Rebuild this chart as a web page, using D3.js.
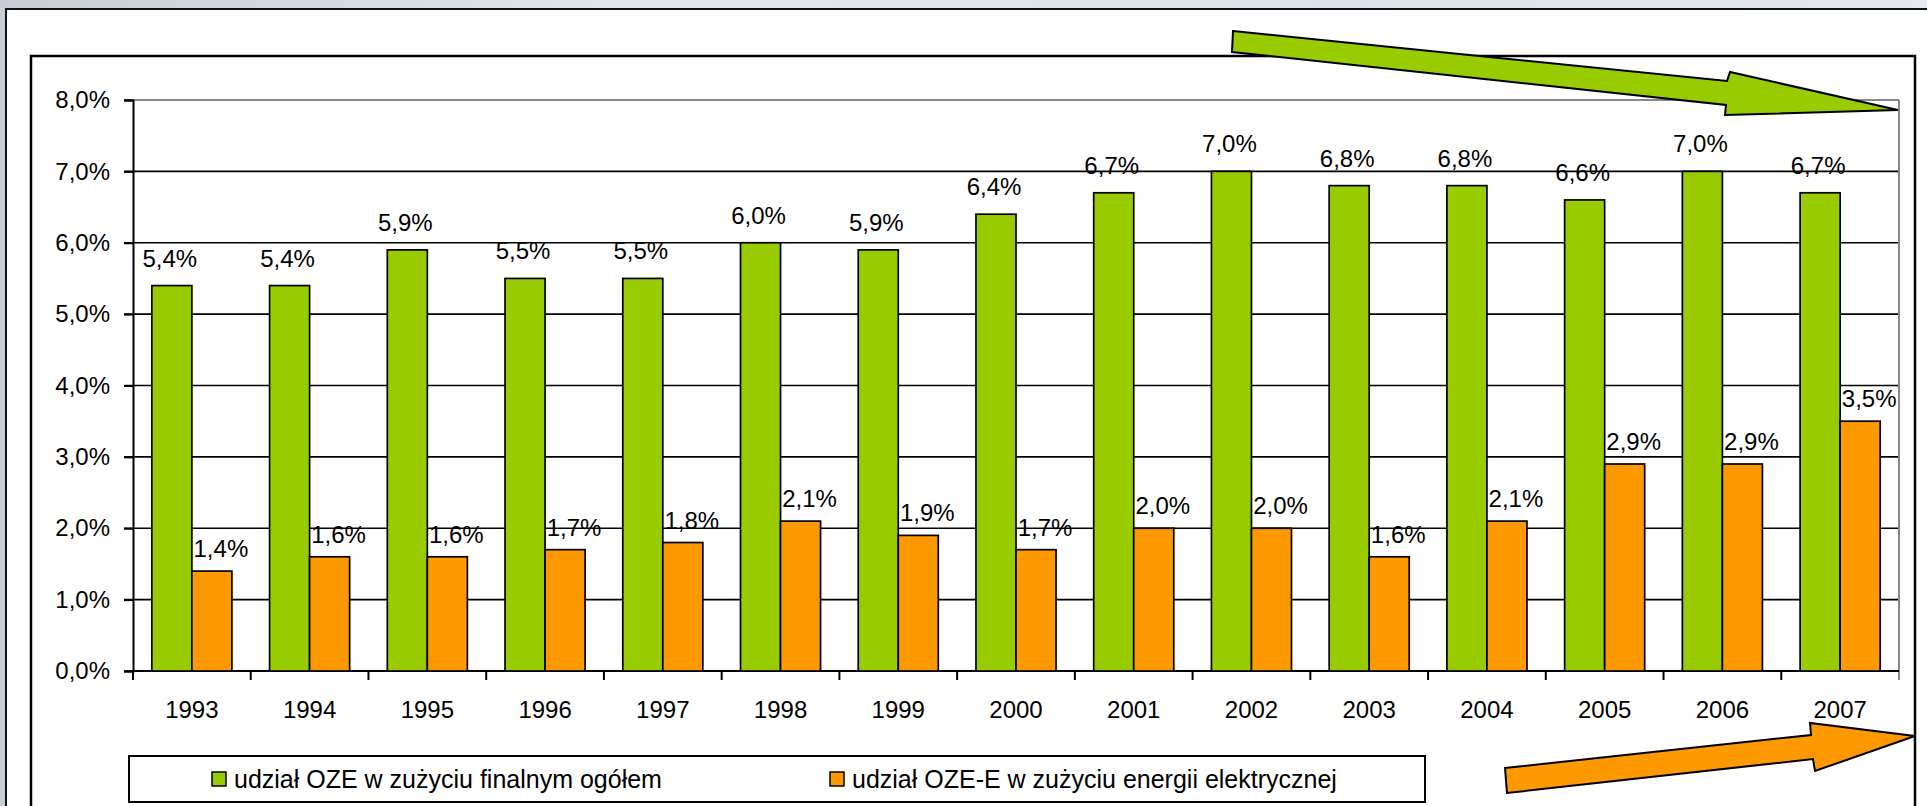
<!DOCTYPE html>
<html>
<head>
<meta charset="utf-8">
<script src="https://cdn.jsdelivr.net/npm/d3@7"></script>
<style>
    html, body { margin: 0; padding: 0; background: #dfe3e9; }
    svg { display: block; }
    text { font-family: "Liberation Sans", Arial, sans-serif; fill: #000; }
</style>
</head>
<body>
<svg id="chart" width="1927" height="806"></svg>
<script>
// --- data ---
const years = ["1993", "1994", "1995", "1996", "1997", "1998", "1999", "2000",
    "2001", "2002", "2003", "2004", "2005", "2006", "2007"];
const ozeTotal = [5.4, 5.4, 5.9, 5.5, 5.5, 6.0, 5.9, 6.4, 6.7, 7.0, 6.8, 6.8, 6.6, 7.0, 6.7];
const ozeElectric = [1.4, 1.6, 1.6, 1.7, 1.8, 2.1, 1.9, 1.7, 2.0, 2.0, 1.6, 2.1, 2.9, 2.9, 3.5];
const yTicks = [0, 1, 2, 3, 4, 5, 6, 7, 8];
const seriesNames = [
    "udział OZE w zużyciu finalnym ogółem",
    "udział OZE-E w zużyciu energii elektrycznej"
];
const seriesColors = ["#99cc00", "#ff9900"];

const svg = d3.select("#chart");
const W = 1927, H = 806;

// background + frames
const defs = svg.append("defs");
const grad = defs.append("linearGradient").attr("id", "bg").attr("x1", 0).attr("y1", 0).attr("x2", 1).attr("y2", 0);
grad.append("stop").attr("offset", "0%").attr("stop-color", "#c9ced4");
grad.append("stop").attr("offset", "35%").attr("stop-color", "#e3e7ee");
grad.append("stop").attr("offset", "70%").attr("stop-color", "#dde3ec");
grad.append("stop").attr("offset", "100%").attr("stop-color", "#e6e9ee");
svg.append("rect").attr("width", W).attr("height", H).attr("fill", "url(#bg)");

svg.append("rect").attr("x", 6).attr("y", 9).attr("width", W).attr("height", H)
    .attr("fill", "#fff").attr("stroke", "#111").attr("stroke-width", 2);
svg.append("rect").attr("x", 31).attr("y", 56).attr("width", 1915 - 31).attr("height", H)
    .attr("fill", "#fff").attr("stroke", "#000").attr("stroke-width", 2.5);

// plot area
const plot = { left: 133, right: 1899, top: 100, bottom: 671 };

const x = d3.scaleBand().domain(years).range([plot.left, plot.right]).padding(0);
const x1 = d3.scaleBand().domain([0, 1])
    .range([x.bandwidth() * 0.16, x.bandwidth() * 0.84]).padding(0);
const y = d3.scaleLinear().domain([0, 8]).range([plot.bottom, plot.top]);

const pct = (v) => d3.format(".1f")(v).replace(".", ",") + "%";

// gridlines (top one gray as plot border)
svg.append("g")
    .selectAll("line")
    .data(yTicks)
    .join("line")
    .attr("x1", plot.left - 9)
    .attr("x2", plot.right)
    .attr("y1", (d) => y(d))
    .attr("y2", (d) => y(d))
    .attr("stroke", (d) => (d === 8 ? "#888" : "#000"))
    .attr("stroke-width", (d) => (d === 8 ? 2 : 1.7));

// right plot border
svg.append("line")
    .attr("x1", plot.right).attr("x2", plot.right)
    .attr("y1", plot.top).attr("y2", plot.bottom + 9)
    .attr("stroke", "#888").attr("stroke-width", 2);

// y axis
const yAxis = svg.append("g")
    .attr("transform", `translate(${plot.left},0)`)
    .call(d3.axisLeft(y).tickValues(yTicks).tickSize(9).tickPadding(14).tickFormat(pct));
yAxis.select(".domain").attr("stroke", "#000").attr("stroke-width", 2);
yAxis.selectAll(".tick line").attr("stroke", "#000").attr("stroke-width", 2);
yAxis.selectAll("text").attr("font-size", 24).attr("font-family", "Liberation Sans, Arial, sans-serif");

// x axis
const xAxis = svg.append("g")
    .attr("transform", `translate(0,${plot.bottom})`)
    .call(d3.axisBottom(x).tickSize(0).tickPadding(30));
xAxis.select(".domain").remove();
xAxis.selectAll("text").attr("font-size", 24).attr("font-family", "Liberation Sans, Arial, sans-serif");

const boundaries = years.map((d) => x(d)).concat([plot.right]);
svg.append("g")
    .selectAll("line")
    .data(boundaries)
    .join("line")
    .attr("x1", (d) => d).attr("x2", (d) => d)
    .attr("y1", plot.bottom).attr("y2", plot.bottom + 9)
    .attr("stroke", (d, i) => (i === boundaries.length - 1 ? "#888" : "#000"))
    .attr("stroke-width", 2);

svg.append("line")
    .attr("x1", plot.left).attr("x2", plot.right)
    .attr("y1", plot.bottom).attr("y2", plot.bottom)
    .attr("stroke", "#000").attr("stroke-width", 2);

// bars
const series = [ozeTotal, ozeElectric];
series.forEach((vals, s) => {
    svg.append("g")
        .selectAll("rect")
        .data(vals)
        .join("rect")
        .attr("x", (d, i) => x(years[i]) + x1(s))
        .attr("y", (d) => y(d))
        .attr("width", x1.bandwidth())
        .attr("height", (d) => plot.bottom - y(d))
        .attr("fill", seriesColors[s])
        .attr("stroke", "#000")
        .attr("stroke-width", 1.7);
});

// value labels
const labelOffset = [{ dx: -2, dy: -19 }, { dx: 9, dy: -14 }];
series.forEach((vals, s) => {
    svg.append("g")
        .selectAll("text")
        .data(vals)
        .join("text")
        .attr("x", (d, i) => x(years[i]) + x1(s) + x1.bandwidth() / 2 + labelOffset[s].dx)
        .attr("y", (d) => y(d) + labelOffset[s].dy)
        .attr("text-anchor", "middle")
        .attr("font-size", 24)
        .text((d) => pct(d));
});

// legend
const legend = svg.append("g");
legend.append("rect")
    .attr("x", 129).attr("y", 756).attr("width", 1425 - 129).attr("height", 46)
    .attr("fill", "#fff").attr("stroke", "#000").attr("stroke-width", 2);
const legendX = [212, 830];
seriesNames.forEach((name, s) => {
    legend.append("rect")
        .attr("x", legendX[s]).attr("y", 772).attr("width", 14).attr("height", 14)
        .attr("fill", seriesColors[s]).attr("stroke", "#000").attr("stroke-width", 1.5);
    legend.append("text")
        .attr("x", legendX[s] + 22).attr("y", 788)
        .attr("font-size", 25)
        .text(name);
});

// trend arrows (annotation shapes)
const arrowLine = d3.line();
svg.append("path")
    .attr("d", arrowLine([[1233, 31], [1727, 81], [1730, 72], [1898, 110], [1725, 115], [1726, 105], [1232, 52]]) + "Z")
    .attr("fill", "#99cc00").attr("stroke", "#000").attr("stroke-width", 2);
svg.append("path")
    .attr("d", arrowLine([[1505, 768], [1811, 735], [1810, 723], [1915, 736], [1815, 771], [1813, 759], [1507, 793]]) + "Z")
    .attr("fill", "#ff9900").attr("stroke", "#000").attr("stroke-width", 2);
</script>
</body>
</html>
